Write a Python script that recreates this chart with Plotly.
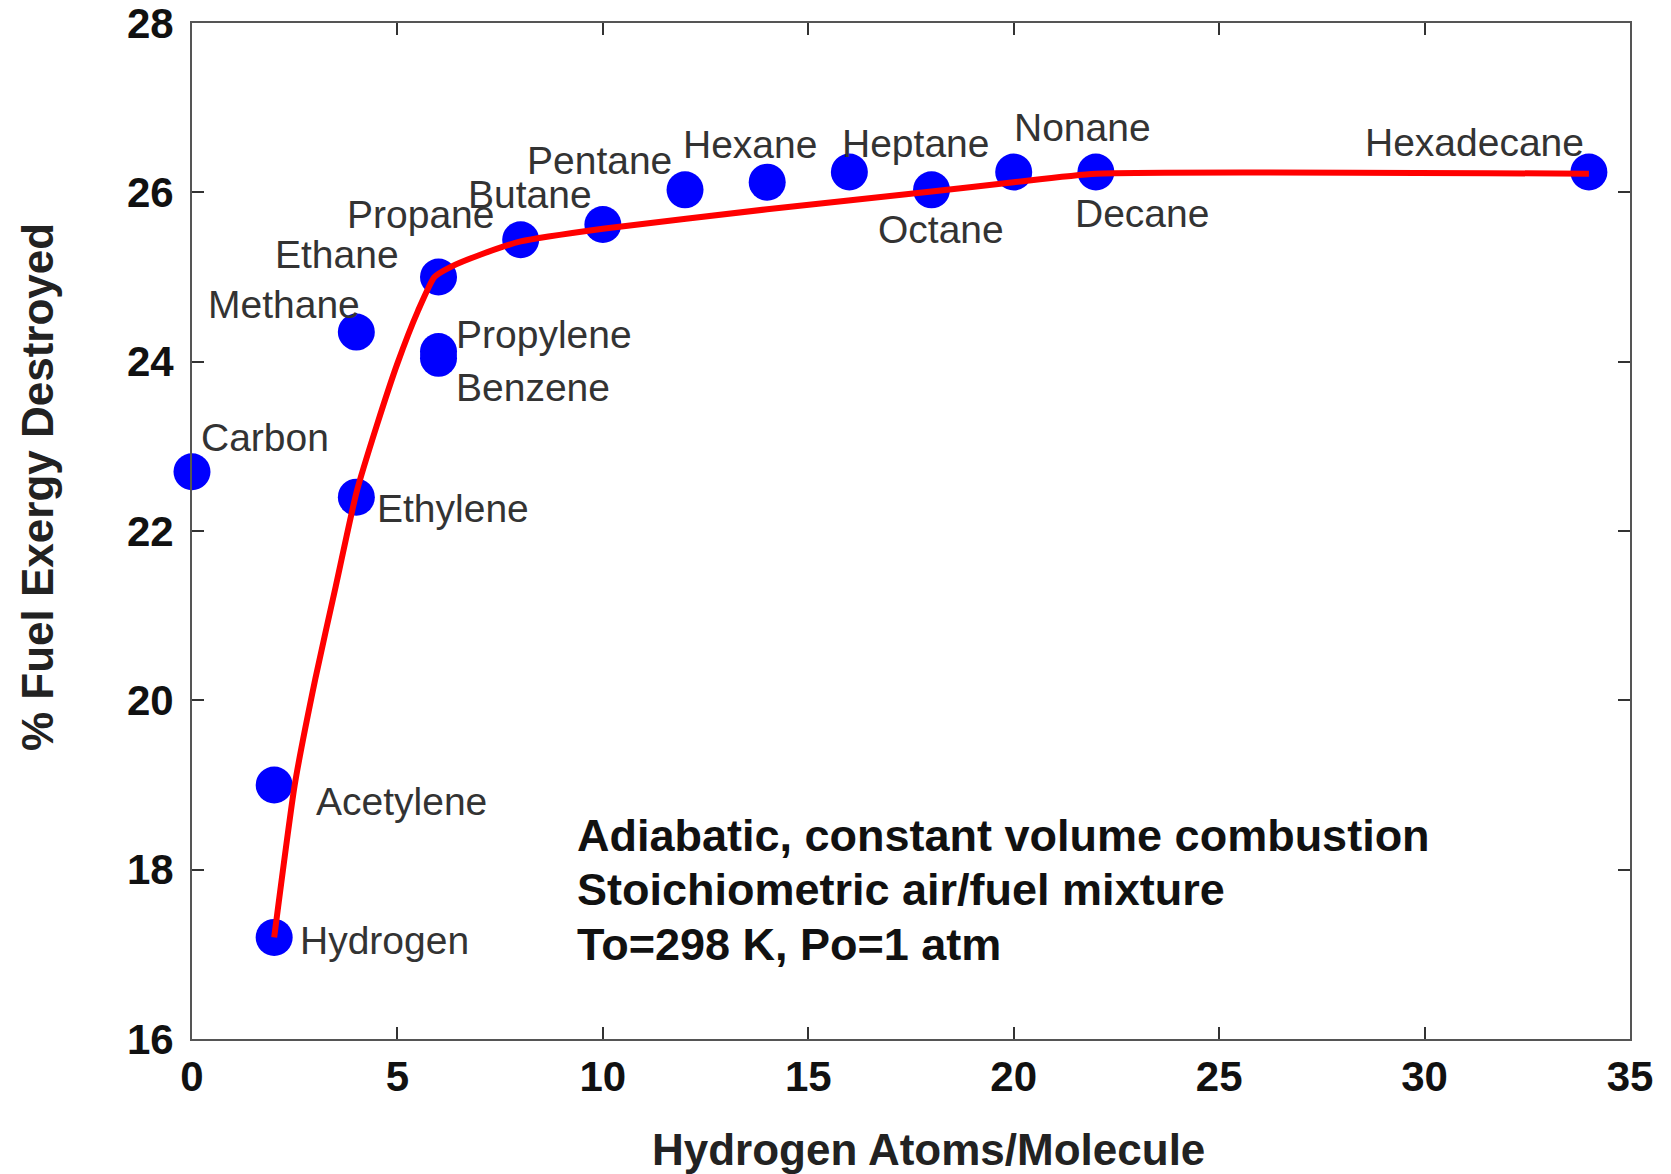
import plotly.graph_objects as go

# ---- data ----
fuels = ["Carbon", "Hydrogen", "Acetylene", "Ethylene", "Methane", "Ethane",
         "Propylene", "Benzene", "Propane", "Butane", "Pentane", "Hexane",
         "Heptane", "Octane", "Nonane", "Decane", "Hexadecane"]
h_atoms = [0, 2, 2, 4, 4, 6, 6, 6, 8, 10, 12, 14, 16, 18, 20, 22, 34]
exergy_destroyed = [22.7, 17.2, 19.0, 22.4, 24.35, 25.0, 24.12, 24.04, 25.44,
                    25.62, 26.03, 26.12, 26.24, 26.03, 26.24, 26.24, 26.24]

# red trend curve
curve_x = [2, 2.5, 3, 3.5, 4, 4.5, 5, 5.5, 5.9, 6.3, 7, 8, 10, 14, 18, 20, 22, 34]
curve_y = [17.2, 19.0, 20.25, 21.35, 22.45, 23.25, 23.98, 24.6, 25.0, 25.12,
           25.26, 25.42, 25.57, 25.8, 26.01, 26.12, 26.22, 26.22]

x_ticks = [0, 5, 10, 15, 20, 25, 30, 35]
y_ticks = [16, 18, 20, 22, 24, 26, 28]

x_title = "Hydrogen Atoms/Molecule"
y_title = "% Fuel Exergy Destroyed"

note_lines = ["Adiabatic, constant volume combustion",
              "Stoichiometric air/fuel mixture",
              "To=298 K, Po=1 atm"]
note_y = [18.4, 17.76, 17.12]

# ---- label placement (style: anchor, pixel shifts) ----
label_style = {
    "Carbon": ("left", 7, 34),
    "Hydrogen": ("left", 24, -3),
    "Acetylene": ("left", 40, -16),
    "Ethylene": ("left", 19, -11),
    "Methane": ("right", 6, 28),
    "Ethane": ("right", -38, 23),
    "Propylene": ("left", 15, 17),
    "Benzene": ("left", 15, -29),
    "Propane": ("right", -25, 25),
    "Butane": ("right", -9, 30),
    "Pentane": ("right", -11, 29),
    "Hexane": ("center", -17, 38),
    "Heptane": ("left", -9, 29),
    "Octane": ("center", 9, -40),
    "Nonane": ("left", -2, 45),
    "Decane": ("left", -23, -41),
    "Hexadecane": ("right", -3, 30),
}

FONT = "Liberation Sans, Arial, sans-serif"

curve_line = dict(color="#ff0000", width=6, shape="spline", smoothing=0.5)

fig = go.Figure()
fig.add_trace(go.Scatter(
    x=h_atoms, y=exergy_destroyed, mode="markers",
    marker=dict(color="#0000ff", size=37, line=dict(width=0)),
    text=fuels, showlegend=False, cliponaxis=False,
))
fig.add_trace(go.Scatter(
    x=curve_x, y=curve_y, mode="lines", line=curve_line,
    hoverinfo="skip", showlegend=False, cliponaxis=False,
))

for name, xv, yv in zip(fuels, h_atoms, exergy_destroyed):
    anchor, dx, dy = label_style[name]
    fig.add_annotation(
        x=xv, y=yv, text=name, showarrow=False,
        xanchor=anchor, yanchor="middle", xshift=dx, yshift=dy,
        font=dict(family=FONT, size=39, color="#333333"),
    )

for line, yv in zip(note_lines, note_y):
    fig.add_annotation(
        x=9.32, y=yv, xref="x", yref="y", text=f"<b>{line}</b>",
        showarrow=False, xanchor="left", yanchor="middle", align="left",
        font=dict(family=FONT, size=45, color="#111111"),
    )

# axis titles
fig.add_annotation(
    x=0.512, y=0, xref="paper", yref="paper", yshift=-110,
    text=f"<b>{x_title}</b>", showarrow=False,
    xanchor="center", yanchor="middle",
    font=dict(family=FONT, size=44, color="#222222"),
)
fig.add_annotation(
    x=0, y=0.5, xref="paper", yref="paper", xshift=-155, yshift=44,
    text=f"<b>{y_title}</b>", showarrow=False, textangle=-90,
    xanchor="center", yanchor="middle",
    font=dict(family=FONT, size=44, color="#222222"),
)

axis_common = dict(
    showline=True, linecolor="#555555", linewidth=2, mirror="ticks",
    ticks="inside", ticklen=12, tickwidth=2, tickcolor="#333333",
    showgrid=False, zeroline=False, automargin=False,
    ticklabeloverflow="allow",
    tickfont=dict(family=FONT, size=42, color="#111111", weight="bold"),
)

fig.update_xaxes(
    range=[0, 35], tickvals=x_ticks, ticktext=[str(v) for v in x_ticks],
    **axis_common,
)
fig.update_yaxes(
    range=[16, 28.0001], tickvals=y_ticks, ticktext=[str(v) for v in y_ticks],
    ticklabelstandoff=8,
    **axis_common,
)

fig.update_layout(
    width=1671, height=1174,
    margin=dict(l=192, r=41, t=23, b=135, autoexpand=False),
    paper_bgcolor="white", plot_bgcolor="white",
    showlegend=False,
)

fig.write_html("out.html")
